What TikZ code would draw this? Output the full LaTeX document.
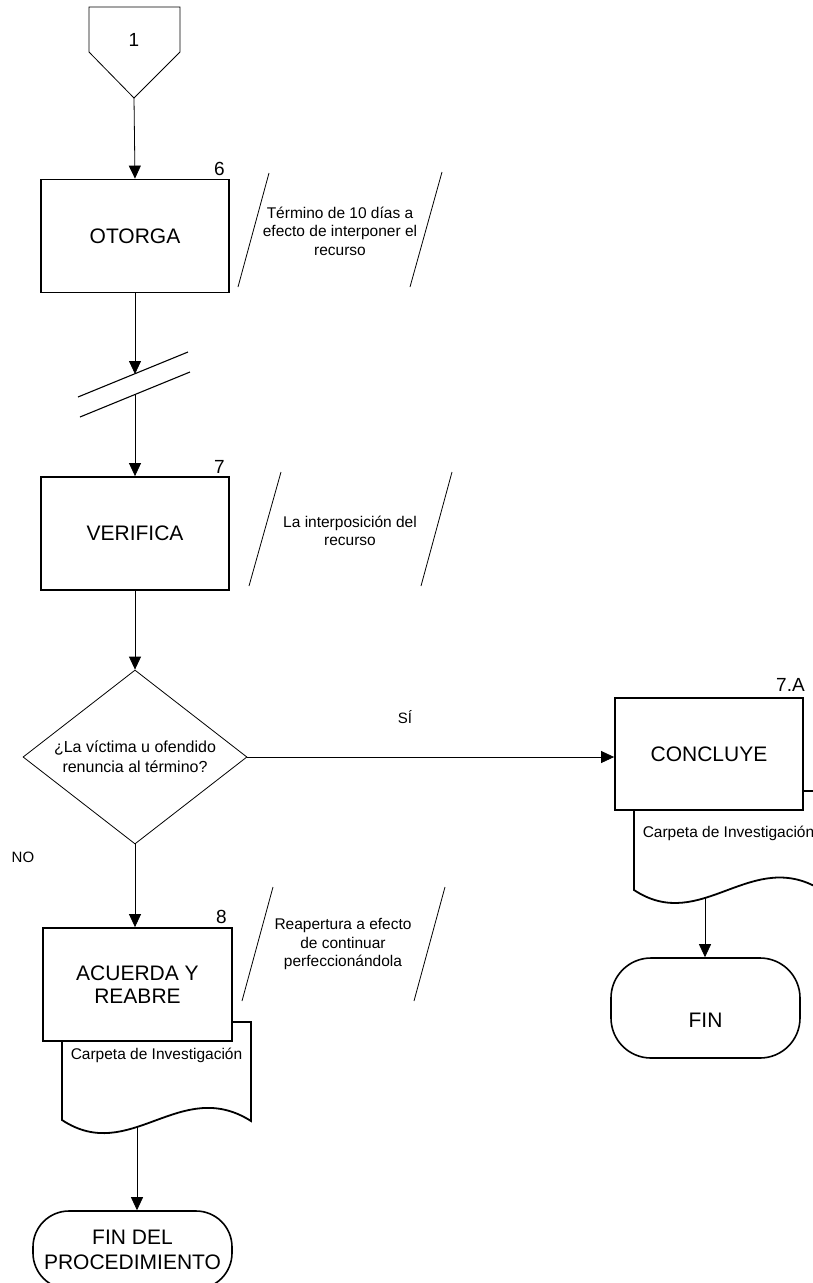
\documentclass[tikz,border=0pt]{standalone}
\usepackage{fontspec}
\setmainfont{Liberation Sans}
\usetikzlibrary{shapes.geometric,arrows.meta,calc}
\pgfdeclarelayer{bg}
\pgfsetlayers{bg,main}
\begin{document}
\begin{tikzpicture}[x=1pt,y=-1pt]
\tikzset{
  procbox/.style={draw, line width=1.8pt, fill=white, minimum width=188pt, minimum height=113pt, inner sep=0pt, align=center, font=\fontsize{21}{23.5}\selectfont},
  stepnum/.style={anchor=base east, inner sep=0pt, font=\fontsize{19}{20}\selectfont},
  note/.style={align=center, inner sep=0pt, font=\fontsize{15.5}{18.5}\selectfont},
  noteline/.style={line width=0.8pt},
  flow/.style={line width=0.8pt, -{Triangle[length=13pt,width=12pt]}},
  docshape/.style={draw, line width=1.8pt, fill=white},
  doctext/.style={inner sep=0pt, font=\fontsize{15.5}{18}\selectfont},
  term/.style={draw, line width=1.6pt, fill=white, inner sep=0pt, align=center, font=\fontsize{21}{25}\selectfont},
  decision/.style={draw, diamond, line width=0.8pt, fill=white, inner sep=0pt, minimum width=224pt, minimum height=174pt, aspect=1.287, align=center, font=\fontsize{16}{20}\selectfont},
  flowlabel/.style={inner sep=0pt, font=\fontsize{15}{18}\selectfont},
}
\useasboundingbox (0,0) rectangle (813,1283);
\begin{pgfonlayer}{bg}
\fill[white] (0,0) rectangle (813,1283);
\end{pgfonlayer}
\begin{scope}
\clip (0,0) rectangle (813,1283);

% off-page connector
\draw[line width=0.8pt, fill=white] (89,7) -- (180,7) -- (180,52) -- (134,98) -- (89,52) -- cycle;
\coordinate (offtip) at (134,98);
\node[inner sep=0pt, font=\fontsize{19}{20}\selectfont] (off) at (134,40) {1};

% process boxes
\node[procbox] (otorga) at (135,236) {OTORGA};
\node[stepnum] (n6) at ($(otorga.north east)+(-5,-3)$) {6};

\node[procbox] (verifica) at (135,533.5) {VERIFICA};
\node[stepnum] (n7) at ($(verifica.north east)+(-5,-3)$) {7};

\node[decision] (dec) at (135,757) {¿La víctima u ofendido\\renuncia al término?};

% document behind CONCLUYE
\draw[docshape] (634,791) -- (823,791) -- (823,891) .. controls (752,845) and (702,935) .. (634,890) -- cycle;
\node[procbox, minimum height=112pt] (concl) at (709,754) {CONCLUYE};
\node[stepnum] (n7a) at ($(concl.north east)+(1,-6)$) {7.A};
\node[doctext] (doc2) at (728.5,833) {Carpeta de Investigación};
\coordinate (doc2out) at (705,880);

% document behind ACUERDA
\draw[docshape] (62,1022) -- (251,1022) -- (251,1121) .. controls (180,1076) and (130,1165) .. (62,1120) -- cycle;
\node[procbox, minimum width=189pt] (acuerda) at (137.5,984.5) {ACUERDA Y\\REABRE};
\node[stepnum] (n8) at ($(acuerda.north east)+(-6,-4)$) {8};
\node[doctext] (doc1) at (156.5,1055) {Carpeta de Investigación};
\coordinate (doc1out) at (137,1110);

% terminals
\node[term, minimum width=189pt, minimum height=100pt, rounded corners=40pt, text height=39pt, text depth=0pt] (fin2) at (705.5,1008) {FIN};
\node[term, minimum width=199pt, minimum height=78pt, rounded corners=36pt] (fin1) at (132.5,1250) {FIN DEL\\PROCEDIMIENTO};

% annotations
\node[note] (ann1) at (340,231) {Término de 10 días a\\efecto de interponer el\\recurso};
\draw[noteline] (269,173) -- (238,287);
\draw[noteline] (442,172) -- (410,287);

\node[note] (ann2) at (350,531) {La interposición del\\recurso};
\draw[noteline] (281,472) -- (249,586);
\draw[noteline] (452,472) -- (421,586);

\node[note] (ann3) at (343,944) {Reapertura a efecto\\de continuar\\perfeccionándola};
\draw[noteline] (273,887) -- (242,1001);
\draw[noteline] (445,887) -- (414,1001);

% break marks
\coordinate (brk1) at (135,374);
\coordinate (brk2) at (135,395);
\draw[line width=1.1pt] (78,397) -- (188,352);
\draw[line width=1.1pt] (80,417) -- (190,372);

% labels
\node[flowlabel] (si) at (405,717) {SÍ};
\node[flowlabel] (no) at (23,857) {NO};
\end{scope}

% connectors
\begin{pgfonlayer}{bg}
\draw[flow] (offtip) -- (otorga.north);
\draw[flow] (otorga.south) -- (brk1);
\draw[flow] (brk2) -- (verifica.north);
\draw[flow] (verifica.south) -- (dec.north);
\draw[flow] (dec.east) -- (dec.east -| concl.west);
\draw[flow] (dec.south) -- (dec.south |- acuerda.north);
\draw[flow] (doc1out) -- (doc1out |- fin1.north);
\draw[flow] (doc2out) -- (doc2out |- fin2.north);
\end{pgfonlayer}
\end{tikzpicture}
\end{document}
